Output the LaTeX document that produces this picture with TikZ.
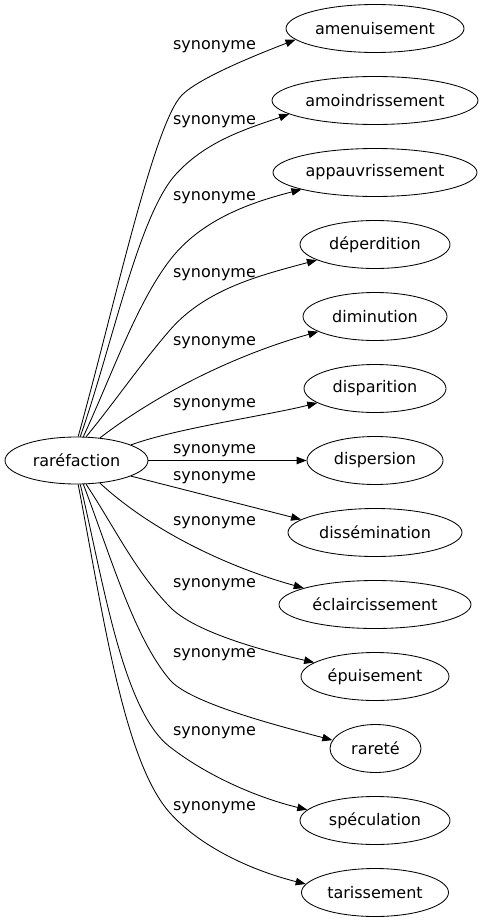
\documentclass[tikz,border=0pt]{standalone}
\usepackage{fontspec}
\setmainfont{DejaVu Sans}
\usetikzlibrary{arrows.meta,shapes.geometric}
\begin{document}
\begin{tikzpicture}[x=1pt,y=1pt,
  every node/.style={font=\fontsize{16}{19}\selectfont},
  word/.style={ellipse,draw,line width=0.85pt,inner sep=0pt,minimum height=48pt},
  lab/.style={inner sep=0pt},
  edge/.style={line width=0.85pt,-{Triangle[length=10pt,width=7.5pt]}}]
\useasboundingbox (0,0) rectangle (483,-923);
\node[word,minimum width=143pt,minimum height=47pt] (r) at (76.5,-460.5) {\makebox[0pt]{raréfaction}};
\node[word,minimum width=178pt] (tA) at (375,-28.5) {\makebox[0pt]{amenuisement}};
\node[word,minimum width=206pt] (tB) at (375,-100.5) {\makebox[0pt]{amoindrissement}};
\node[word,minimum width=204pt] (tC) at (375,-172.5) {\makebox[0pt]{appauvrissement}};
\node[word,minimum width=150pt] (tD) at (375,-244.5) {\makebox[0pt]{déperdition}};
\node[word,minimum width=144pt] (tE) at (375,-316.5) {\makebox[0pt]{diminution}};
\node[word,minimum width=142pt] (tF) at (375,-388.5) {\makebox[0pt]{disparition}};
\node[word,minimum width=136pt] (tP) at (375,-460.5) {\makebox[0pt]{dispersion}};
\node[word,minimum width=174pt] (tG) at (375,-532.5) {\makebox[0pt]{dissémination}};
\node[word,minimum width=192pt] (tH) at (375,-604.5) {\makebox[0pt]{éclaircissement}};
\node[word,minimum width=148pt] (tI) at (375,-676.5) {\makebox[0pt]{épuisement}};
\node[word,minimum width=91pt] (tJ) at (375.5,-748.5) {\makebox[0pt]{rareté}};
\node[word,minimum width=150pt] (tK) at (375,-820.5) {\makebox[0pt]{spéculation}};
\node[word,minimum width=147pt] (tL) at (375,-892.5) {\makebox[0pt]{tarissement}};

\node[lab] (lA) at (214.5,-47) {synonyme};
\node[lab] (lB) at (214.5,-122) {synonyme};
\node[lab] (lC) at (214.5,-198) {synonyme};
\node[lab] (lD) at (214.5,-275) {synonyme};
\node[lab] (lE) at (214.5,-343) {synonyme};
\node[lab] (lF) at (214.5,-405) {synonyme};
\node[lab] (lP) at (214.5,-451) {synonyme};
\node[lab] (lG) at (214.5,-478) {synonyme};
\node[lab] (lH) at (214.5,-523) {synonyme};
\node[lab] (lI) at (214.5,-585) {synonyme};
\node[lab] (lJ) at (214.5,-655) {synonyme};
\node[lab] (lK) at (214.5,-733) {synonyme};
\node[lab] (lL) at (214.5,-808) {synonyme};

\draw[edge] (r.86) .. controls (113,-312) and (153.7,-123.3) .. (182,-95) .. controls (199.7,-77.3) and (258.6,-54) .. (tA.188);
\draw[edge] (r.81.5) .. controls (113,-343) and (139,-213) .. (177,-173) .. controls (208,-140) and (248,-128.5) .. (tB.189.5);
\draw[edge] (r.74.5) .. controls (112.5,-373.6) and (136.5,-303.6) .. (170,-260) .. controls (201.7,-218.8) and (252.5,-202) .. (tC.193);
\draw[edge] (r.68) .. controls (115,-401.7) and (140.5,-364) .. (170,-330) .. controls (206,-288.5) and (261.5,-275) .. (tD.195);
\draw[edge] (r.44) .. controls (163.4,-389.3) and (241.8,-353) .. (tE.195);
\draw[edge] (r.16) .. controls (175.5,-428.5) and (269.5,-415) .. (tF.194);
\draw[edge] (r.east) -- (tP.west);
\draw[edge] (r.-16) -- (tG.170.5);
\draw[edge] (r.-44) .. controls (155.6,-534.4) and (234.5,-569) .. (tH.167);
\draw[edge] (r.-68) .. controls (113.8,-526) and (135,-571) .. (170,-607) .. controls (194,-632) and (263.5,-650.8) .. (tI.167.5);
\draw[edge] (r.-74.5) .. controls (110,-554) and (134,-638) .. (170,-680) .. controls (189.6,-702.7) and (274.9,-725) .. (tJ.169);
\draw[edge] (r.-81.5) .. controls (103.3,-581.3) and (122.5,-710.4) .. (170,-747) .. controls (209.6,-777.5) and (259,-798) .. (tK.171);
\draw[edge] (r.-86) .. controls (102.7,-611.7) and (123.3,-760.9) .. (170,-813) .. controls (203.4,-850) and (257.5,-872) .. (tL.173);
\end{tikzpicture}
\end{document}
